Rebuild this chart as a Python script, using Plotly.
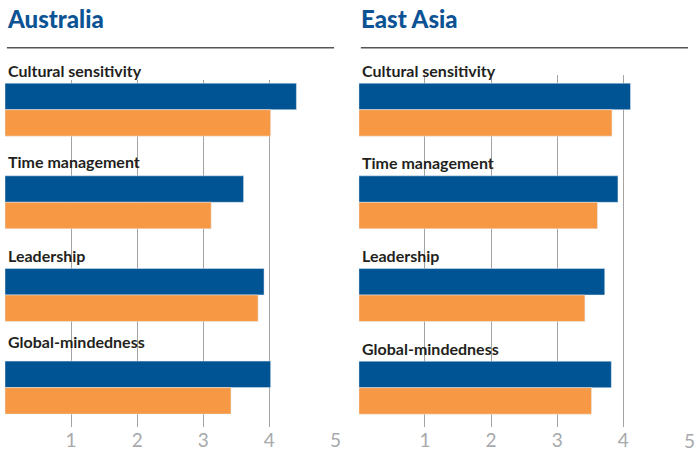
import plotly.graph_objects as go

categories = ["Cultural sensitivity", "Time management", "Leadership", "Global-mindedness"]
panel_titles = ["Australia", "East Asia"]
aus_blue = [4.41, 3.61, 3.92, 4.02]
aus_orange = [4.02, 3.12, 3.83, 3.42]
ea_blue = [4.11, 3.92, 3.72, 3.82]
ea_orange = [3.83, 3.61, 3.42, 3.52]
tick_vals_left = [1, 2, 3, 4, 5]
tick_vals_right = [1, 2, 3, 4]
extra_tick_right = "5"

BLUE = "#005494"
ORANGE = "#F79944"
TITLE_BLUE = "#0B5394"
LABEL = "#231F20"
GRID = "#a3a3a3"
TICKC = "#a7a9ac"
FONT = "Lato"

W, H = 694, 452
PX = 66.67  # pixels per unit

fig = go.Figure()
fig.add_trace(go.Bar(y=categories, x=aus_blue, orientation="h", marker_color=BLUE,
                     xaxis="x", yaxis="y", showlegend=False, hoverinfo="x"))
fig.add_trace(go.Bar(y=categories, x=aus_orange, orientation="h", marker_color=ORANGE,
                     xaxis="x", yaxis="y", showlegend=False, hoverinfo="x"))
fig.add_trace(go.Bar(y=categories, x=ea_blue, orientation="h", marker_color=BLUE,
                     xaxis="x2", yaxis="y2", showlegend=False, hoverinfo="x"))
fig.add_trace(go.Bar(y=categories, x=ea_orange, orientation="h", marker_color=ORANGE,
                     xaxis="x2", yaxis="y2", showlegend=False, hoverinfo="x"))

def py(p):
    return (H - p) / H

xcommon = dict(showgrid=True, gridcolor=GRID, gridwidth=1, zeroline=False, showline=False,
               ticks="", tickfont=dict(family=FONT, size=19, color=TICKC), fixedrange=True)

left_x0 = 5
right_x0 = 362
fig.update_layout(
    width=W, height=H, margin=dict(l=0, r=0, t=0, b=0),
    paper_bgcolor="white", plot_bgcolor="white",
    barmode="group", bargap=0.428, bargroupgap=0,
    xaxis=dict(domain=[left_x0 / W, (left_x0 + 5 * PX) / W], range=[0, 5],
               tickvals=tick_vals_left, anchor="y", **xcommon),
    xaxis2=dict(domain=[right_x0 / W, 1], range=[0, (W - right_x0) / PX],
                tickvals=tick_vals_right, anchor="y2", **xcommon),
    yaxis=dict(domain=[py(427), py(80)], type="category", categoryarray=categories,
               range=[3.425, -0.32], showticklabels=False, showgrid=False,
               zeroline=False, ticks="", anchor="x", fixedrange=True),
    yaxis2=dict(domain=[py(427), py(75)], type="category", categoryarray=categories,
                range=[3.424, -0.374], showticklabels=False, showgrid=False,
                zeroline=False, ticks="", anchor="x2", fixedrange=True),
)

annotations = []
# panel titles
for title, xp in zip(panel_titles, [7, 364]):
    annotations.append(dict(text=title, xref="paper", yref="paper", x=(xp - 2) / W, y=py(35),
                            xanchor="left", yanchor="bottom", showarrow=False,
                            font=dict(family=FONT, size=24, color=TITLE_BLUE, weight=900)))

label_shift_left = [27.9, 29.5, 27.8, 34.9]
label_shift_right = [27.9, 28.5, 27.8, 28.2]
for xa, ya, shifts in [("x", "y", label_shift_left), ("x2", "y2", label_shift_right)]:
    for cat, s in zip(categories, shifts):
        annotations.append(dict(text=cat, xref=xa, yref=ya, x=0, y=cat, xanchor="left",
                                yanchor="bottom", xshift=1, yshift=s, showarrow=False,
                                font=dict(family=FONT, size=16, color=LABEL, weight="bold")))

annotations.append(dict(text=extra_tick_right, xref="paper", yref="paper",
                        x=(right_x0 + 5 * PX) / W, y=py(440), xanchor="center", yanchor="middle",
                        showarrow=False, font=dict(family=FONT, size=19, color=TICKC)))
fig.update_layout(annotations=annotations)

fig.update_layout(shapes=[
    dict(type="line", xref="paper", yref="paper", x0=7 / W, x1=337 / W, y0=py(47.7), y1=py(47.7),
         line=dict(color="#555555", width=1.5)),
    dict(type="line", xref="paper", yref="paper", x0=364 / W, x1=1, y0=py(47.7), y1=py(47.7),
         line=dict(color="#555555", width=1.5)),
])

post = ("document.documentElement.style.overflow='hidden';"
        "document.body.style.margin='0';document.body.style.overflow='hidden';"
        "var gd=document.getElementById('{plot_id}');gd.style.overflow='hidden';")
fig.write_html("out.html", config={"displayModeBar": False}, post_script=post)
